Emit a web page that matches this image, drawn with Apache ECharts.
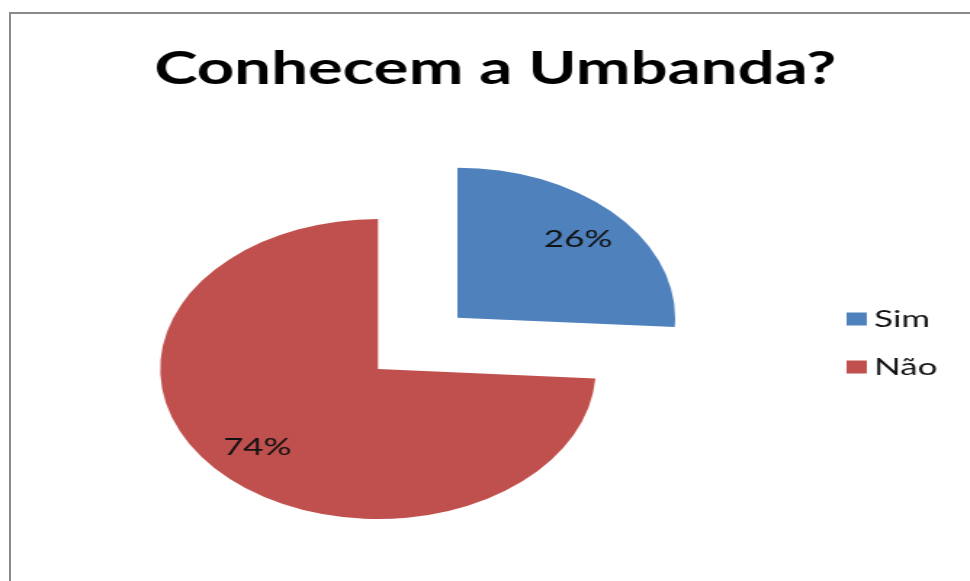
<!DOCTYPE html>
<html>
<head>
<meta charset="utf-8">
<script src="https://cdn.jsdelivr.net/npm/echarts@6/dist/echarts.min.js"></script>
<style>
  html, body { margin: 0; padding: 0; background: #fff; overflow: hidden; }
  #frame { position: absolute; left: 9px; top: 12px; width: 980px; height: 600px;
           border-left: 2px solid #8a8a8a; border-top: 2px solid #8a8a8a; }
  #chart { position: absolute; left: 0; top: 0; width: 668px; height: 581px;
           transform: scaleX(1.452); transform-origin: 0 0; }
</style>
</head>
<body>
<div id="frame"></div>
<div id="chart"></div>
<script>
// Data
const titleText = 'Conhecem a Umbanda?';
const categories = ['Sim', 'Não'];
const values = [26, 74];
const colors = ['#4F81BD', '#C0504D'];

const chart = echarts.init(document.getElementById('chart'));

const pieData = categories.map((name, i) => ({
  name: name,
  value: values[i],
  selected: i === 0,
  itemStyle: { color: colors[i] }
}));
const labelData = categories.map((name, i) => ({
  name: name,
  value: values[i],
  selected: i === 0,
  itemStyle: { color: 'rgba(0,0,0,0)' }
}));

chart.setOption({
  animation: false,
  backgroundColor: 'transparent',
  title: {
    text: titleText,
    left: 336,
    top: 42,
    textAlign: 'center',
    textStyle: { fontFamily: 'Lato', fontWeight: 'bold', fontSize: 45, color: '#000' }
  },
  legend: {
    orient: 'vertical',
    left: 578,
    top: 300,
    itemWidth: 14,
    itemHeight: 13,
    itemGap: 20,
    icon: 'rect',
    selectedMode: false,
    data: categories.map((name, i) => ({ name: name, itemStyle: { color: colors[i] } })),
    textStyle: { fontFamily: 'Lato', fontSize: 24, color: '#111', lineHeight: 28 }
  },
  series: [
    {
      type: 'pie',
      center: [260.3, 369],
      radius: [0, 150],
      startAngle: 90,
      clockwise: true,
      selectedMode: 'single',
      selectedOffset: 75,
      emphasis: { disabled: true, scale: false },
      label: { show: false },
      labelLine: { show: false },
      data: pieData
    },
    {
      type: 'pie',
      center: [260.3, 369],
      radius: [72, 150],
      startAngle: 90,
      clockwise: true,
      selectedMode: 'single',
      selectedOffset: 75,
      silent: true,
      emphasis: { disabled: true, scale: false },
      label: {
        show: true,
        position: 'inside',
        formatter: '{c}%',
        fontFamily: 'Lato',
        fontSize: 24,
        color: '#111'
      },
      labelLine: { show: false },
      data: labelData
    }
  ]
});
</script>
</body>
</html>
